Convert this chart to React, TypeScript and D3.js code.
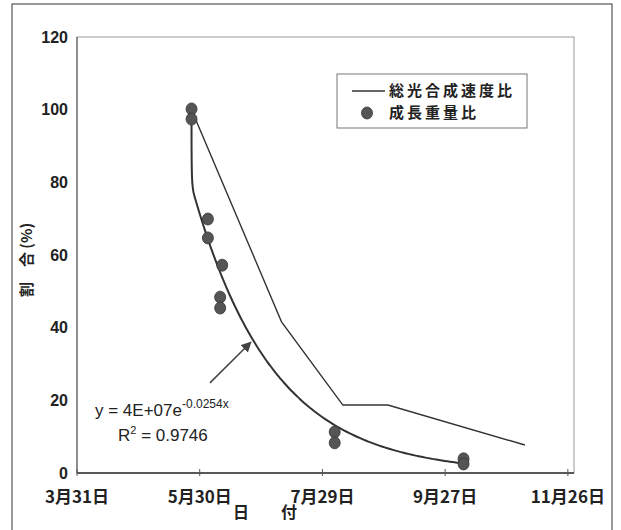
import { useMemo } from 'react';
import * as d3 from 'd3';

const YEAR = 2003;
const toDate = (s: string) => {
  const [m, d] = s.split('/').map(Number);
  return new Date(YEAR, m - 1, d);
};

// 成長重量比 (measured points)
const growthDates = ['5/26', '5/26', '6/3', '6/3', '6/10', '6/9', '6/9', '8/4', '8/4', '10/6', '10/6'];
const growthValues = [100.2, 97.4, 69.9, 64.7, 57.2, 48.4, 45.4, 11.3, 8.3, 3.9, 2.5];

// 総光合成速度比 (line)
const photoDates = ['5/26', '7/9', '8/8', '8/30', '11/5'];
const photoValues = [100, 41.6, 18.7, 18.7, 7.7];

const xTicks = ['3/31', '5/30', '7/29', '9/27', '11/26'];
const yTicks = [0, 20, 40, 60, 80, 100, 120];

// annotation arrow (data space)
const arrowFrom = { date: '6/4', value: 24.8 };
const arrowTo = { date: '6/24', value: 36 };

const W = 621;
const H = 530;
const M = { left: 77, right: 47, top: 37, bottom: 57 };
const JP = '"Noto Sans CJK JP", "Noto Sans", sans-serif';
const SANS = '"Liberation Sans", Arial, sans-serif';

type Pt = { date: Date; value: number };

export default function App() {
  const x = d3.scaleTime()
    .domain([toDate('3/31'), toDate('11/29')])
    .range([M.left, W - M.right]);
  const y = d3.scaleLinear().domain([0, 120]).range([H - M.bottom, M.top]);

  const growth: Pt[] = growthDates.map((s, i) => ({ date: toDate(s), value: growthValues[i] }));
  const photo: Pt[] = photoDates.map((s, i) => ({ date: toDate(s), value: photoValues[i] }));

  // exponential trendline fitted to the growth points (least squares on ln y)
  const trend = useMemo(() => {
    const xs = growth.map(p => p.date.getTime() / 864e5);
    const ls = growth.map(p => Math.log(p.value));
    const mx = d3.mean(xs)!;
    const ml = d3.mean(ls)!;
    const b = d3.sum(xs, (v, i) => (v - mx) * (ls[i] - ml)) / d3.sum(xs, v => (v - mx) ** 2);
    const a = ml - b * mx;
    const [x0, x1] = d3.extent(xs) as [number, number];
    const pts: Pt[] = d3.range(0, 101).map(k => {
      const t = x0 + (x1 - x0) * k / 100;
      return { date: new Date(t * 864e5), value: Math.exp(a + b * t) };
    });
    // the printed curve rises into the first measured point
    return [growth[1], ...pts];
  }, []);

  const line = d3.line<Pt>().x(d => x(d.date)).y(d => y(d.value));
  const smooth = d3.line<Pt>().x(d => x(d.date)).y(d => y(d.value)).curve(d3.curveBasis);

  const plotTop = M.top;
  const plotBottom = y(0);
  const plotLeft = M.left;
  const plotRight = W - M.right;

  const ax1 = x(toDate(arrowFrom.date)), ay1 = y(arrowFrom.value);
  const ax2 = x(toDate(arrowTo.date)), ay2 = y(arrowTo.value);

  return (
    <svg width={W} height={H} style={{ position: 'absolute', left: 0, top: 0, background: '#fff' }}>
      <defs>
        <marker id="arrowHead" viewBox="0 0 10 10" refX="9" refY="5" markerWidth="7" markerHeight="7" orient="auto">
          <path d="M0,0 L10,5 L0,10 z" fill="#444" />
        </marker>
      </defs>
      {/* outer chart border */}
      <rect x={12} y={4} width={600} height={540} fill="none" stroke="#555" strokeWidth={1.2} />

      {/* plot frame */}
      <rect x={plotLeft} y={plotTop} width={plotRight - plotLeft} height={plotBottom - plotTop}
        fill="none" stroke="#999" strokeWidth={1} />
      <line x1={plotLeft} x2={plotRight} y1={plotBottom} y2={plotBottom} stroke="#333" strokeWidth={1.5} />
      <line x1={plotLeft} x2={plotLeft} y1={plotTop} y2={plotBottom} stroke="#666" strokeWidth={1.2} />

      {/* y ticks */}
      {yTicks.map(t => (
        <text key={t} x={plotLeft - 9} y={y(t)} dy="0.35em" textAnchor="end"
          fontFamily={SANS} fontWeight="bold" fontSize={16} fill="#222">{t}</text>
      ))}

      {/* x ticks */}
      {xTicks.map(s => {
        const px = x(toDate(s));
        const [m, d] = s.split('/');
        return (
          <g key={s}>
            <line x1={px} x2={px} y1={plotBottom - 4} y2={plotBottom + 3} stroke="#555" />
            <text x={px} y={plotBottom + 24} dy="0.35em" textAnchor="middle" fontFamily={JP}
              fontWeight="bold" fontSize={17} fill="#222">{`${m}月${d}日`}</text>
          </g>
        );
      })}

      {/* axis titles */}
      <text x={265} y={512} dy="0.35em" textAnchor="middle" fontFamily={JP} fontWeight="bold"
        fontSize={16} fill="#222" style={{ whiteSpace: 'pre' }}>{'日　　付'}</text>
      <text transform={`translate(27,260) rotate(-90)`} dy="0.35em" textAnchor="middle" fontFamily={JP}
        fontWeight="bold" fontSize={15} fill="#222" style={{ whiteSpace: 'pre' }}>{'割　合 (%)'}</text>

      {/* 総光合成速度比 */}
      <path d={line(photo)!} fill="none" stroke="#333" strokeWidth={1.4} />

      {/* trendline */}
      <path d={smooth(trend)!} fill="none" stroke="#333" strokeWidth={2} />

      {/* 成長重量比 points */}
      {growth.map((p, i) => (
        <ellipse key={i} cx={x(p.date)} cy={y(p.value)} rx={5.5} ry={6} fill="#555" stroke="#333" strokeWidth={0.8} />
      ))}

      {/* arrow + equation */}
      <line x1={ax1} y1={ay1} x2={ax2} y2={ay2} stroke="#444" strokeWidth={1.5} markerEnd="url(#arrowHead)" />
      <text x={95} y={410} dy="0.35em" fontFamily={SANS} fontSize={17} fill="#222">
        y = 4E+07e
        <tspan dy="-8" fontSize={12}>-0.0254x</tspan>
      </text>
      <text x={118} y={435} dy="0.35em" fontFamily={SANS} fontSize={17} fill="#222">
        R<tspan dy="-7" fontSize={11}>2</tspan><tspan dy="7"> = 0.9746</tspan>
      </text>

      {/* legend */}
      <rect x={337} y={74} width={190} height={54} fill="#fff" stroke="#777" strokeWidth={1} />
      <line x1={352} x2={385} y1={91} y2={91} stroke="#333" strokeWidth={1.4} />
      <text x={389} y={91} dy="0.35em" fontFamily={JP} fontWeight="bold" fontSize={15} letterSpacing={3} fill="#222">総光合成速度比</text>
      <ellipse cx={367} cy={113} rx={5.5} ry={6} fill="#555" stroke="#333" strokeWidth={0.8} />
      <text x={389} y={113} dy="0.35em" fontFamily={JP} fontWeight="bold" fontSize={15} letterSpacing={3} fill="#222">成長重量比</text>
    </svg>
  );
}
